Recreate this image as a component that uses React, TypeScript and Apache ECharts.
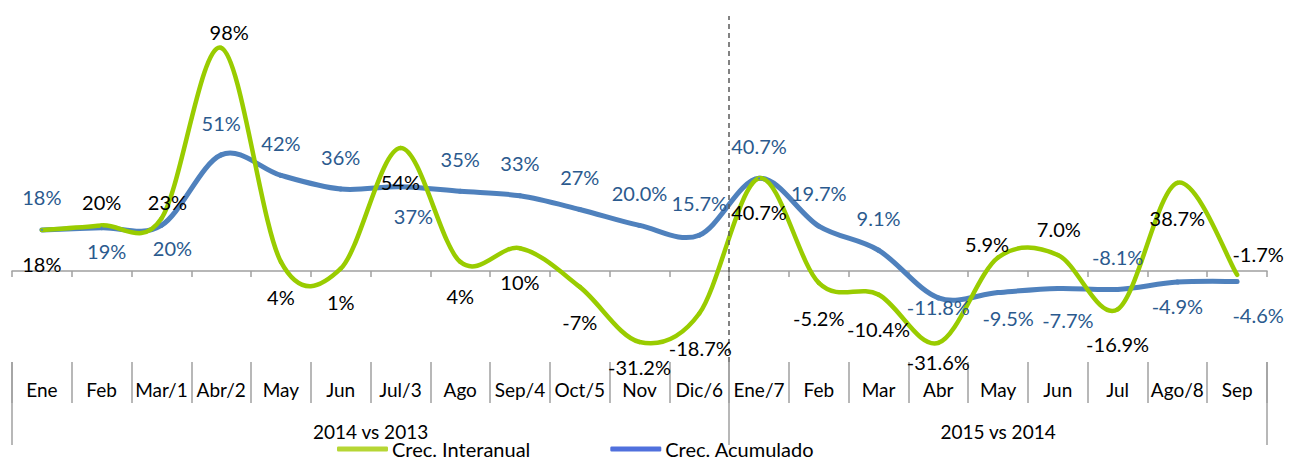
import React, { useEffect, useRef } from "react";
import * as echarts from "echarts";

// ---- data ----
const categories = [
  "Ene", "Feb", "Mar/1", "Abr/2", "May", "Jun", "Jul/3", "Ago", "Sep/4", "Oct/5", "Nov", "Dic/6",
  "Ene/7", "Feb", "Mar", "Abr", "May", "Jun", "Jul", "Ago/8", "Sep",
];
const groups = ["2014 vs 2013", "2015 vs 2014"];
const groupSizes = [12, 9];

const interanualValues = [
  18, 20, 23, 98, 4, 1, 54, 4, 10, -7, -31.2, -18.7,
  40.7, -5.2, -10.4, -31.6, 5.9, 7.0, -16.9, 38.7, -1.7,
];
const interanualLabels = [
  "18%", "20%", "23%", "98%", "4%", "1%", "54%", "4%", "10%", "-7%", "-31.2%", "-18.7%",
  "40.7%", "-5.2%", "-10.4%", "-31.6%", "5.9%", "7.0%", "-16.9%", "38.7%", "-1.7%",
];
const acumuladoValues = [
  18, 19, 20, 51, 42, 36, 37, 35, 33, 27, 20.0, 15.7,
  40.7, 19.7, 9.1, -11.8, -9.5, -7.7, -8.1, -4.9, -4.6,
];
const acumuladoLabels = [
  "18%", "19%", "20%", "51%", "42%", "36%", "37%", "35%", "33%", "27%", "20.0%", "15.7%",
  "40.7%", "19.7%", "9.1%", "-11.8%", "-9.5%", "-7.7%", "-8.1%", "-4.9%", "-4.6%",
];

// ---- layout (label offsets relative to each point) ----
const interanualOffsets = [
  [0, 34], [0, -23], [6, -17], [8, -16], [0, 35], [0, 33], [0, 34], [0, 34], [0, 34], [0, 35], [0, 25], [1, 34],
  [0, 34], [0, 35], [0, 34], [0, 19], [-11, -14], [1, -26], [0, 35], [0, 35], [21, -21],
];
const acumuladoOffsets = [
  [0, -33], [5, 23], [11, 23], [0, -32], [0, -32], [0, -32], [13, 29], [0, -32], [0, -33], [0, -32], [0, -32], [0, -32],
  [0, -32], [0, -33], [0, -32], [0, 9], [10, 25], [10, 32], [0, -32], [0, 24], [21, 34],
];

const GREEN = "#99CC00";
const BLUE = "#4F81BD";
const BLUE_TEXT = "#2B5A8E";
const GRAY = "#A0A0A0";
const FONT = "Lato, 'Liberation Sans', sans-serif";

// Excel-like smoothed curve (Catmull-Rom Bezier segments) through the axis scales
function curveSeries(name: string, values: number[], color: string, width: number, z: number) {
  const n = values.length;
  return {
    name,
    type: "custom",
    xAxisIndex: 0,
    yAxisIndex: 0,
    z,
    silent: true,
    data: values.map((v, i) => [i, v]),
    encode: { x: 0, y: 1 },
    renderItem: (params: any, api: any) => {
      const i = params.dataIndex;
      if (i >= n - 1) return null;
      const idx = (k: number) => Math.max(0, Math.min(n - 1, k));
      const p = (k: number) => api.coord([idx(k), values[idx(k)]]);
      const p0 = p(i - 1), p1 = p(i), p2 = p(i + 1), p3 = p(i + 2);
      const t = 1 / 6;
      return {
        type: "bezierCurve",
        shape: {
          x1: p1[0], y1: p1[1],
          cpx1: p1[0] + (p2[0] - p0[0]) * t, cpy1: p1[1] + (p2[1] - p0[1]) * t,
          cpx2: p2[0] - (p3[0] - p1[0]) * t, cpy2: p2[1] - (p3[1] - p1[1]) * t,
          x2: p2[0], y2: p2[1],
        },
        style: { stroke: color, lineWidth: width, fill: "none", lineCap: "round" },
      };
    },
  };
}

export default function App() {
  const ref = useRef<HTMLDivElement>(null);
  useEffect(() => {
    document.body.style.margin = "0";
    if (!ref.current) return;
    const chart = echarts.init(ref.current, undefined, { renderer: "svg" });
    const total = groupSizes.reduce((a, b) => a + b, 0);
    const groupBounds: number[] = [0];
    const groupCenters: number[] = [];
    groupSizes.forEach((s, i) => {
      groupCenters.push(groupBounds[i] + s / 2);
      groupBounds.push(groupBounds[i] + s);
    });

    const mk = (vals: number[], labels: string[], offs: number[][], color: string) =>
      vals.map((v, i) => ({
        value: v,
        label: { offset: offs[i], formatter: labels[i], color },
      }));

    const labelSeries = (name: string, vals: number[], labels: string[], offs: number[][], color: string, textColor: string) => ({
      name,
      type: "line",
      xAxisIndex: 0,
      color,
      symbol: "circle",
      symbolSize: 2,
      lineStyle: { width: 0, opacity: 0 },
      itemStyle: { color },
      label: { show: true, position: "inside", fontSize: 20, fontFamily: FONT },
      data: mk(vals, labels, offs, textColor),
      z: 6,
    });

    chart.setOption({
      animation: false,
      textStyle: { fontFamily: FONT },
      grid: { left: 12, right: 22, top: 16, bottom: 98 },
      yAxis: { type: "value", min: -40, max: 112, show: false },
      xAxis: [
        {
          type: "category",
          data: categories,
          position: "bottom",
          axisLine: { onZero: true, lineStyle: { color: GRAY, width: 1.5 } },
          axisTick: { show: true, length: 6, lineStyle: { color: GRAY, width: 1.5 } },
          axisLabel: { show: false },
        },
        {
          type: "category",
          data: categories,
          position: "bottom",
          axisLine: { show: false, onZero: false },
          axisTick: { show: true, length: 41, lineStyle: { color: GRAY, width: 1.5 } },
          axisLabel: { show: true, margin: 18, fontSize: 19, color: "#000", fontFamily: FONT, interval: 0 },
        },
        {
          type: "value",
          min: 0,
          max: total,
          position: "bottom",
          axisLine: { show: false, onZero: false },
          splitLine: { show: false },
          axisTick: { show: true, length: 83, customValues: groupBounds, lineStyle: { color: GRAY, width: 1.5 } },
          axisLabel: {
            show: true,
            customValues: groupCenters,
            margin: 60,
            fontSize: 19,
            color: "#000",
            fontFamily: FONT,
            formatter: (v: number) => {
              const idx = groupCenters.findIndex((c) => Math.abs(c - v) < 1e-6);
              return idx >= 0 ? groups[idx] : "";
            },
          },
        },
      ],
      legend: {
        data: ["Crec. Interanual", "Crec. Acumulado"],
        left: 337,
        top: 439,
        padding: 0,
        icon: "roundRect",
        itemWidth: 51,
        itemHeight: 5,
        itemGap: 80,
        textStyle: { fontSize: 20, lineHeight: 20, color: "#000", fontFamily: FONT, padding: [0, 0, 0, -1] },
      },
      series: [
        curveSeries("Crec. Acumulado", acumuladoValues, BLUE, 5, 2),
        curveSeries("Crec. Interanual", interanualValues, GREEN, 4.5, 3),
        labelSeries("Crec. Interanual", interanualValues, interanualLabels, interanualOffsets, GREEN, "#000"),
        labelSeries("Crec. Acumulado", acumuladoValues, acumuladoLabels, acumuladoOffsets, BLUE, BLUE_TEXT),
        {
          name: "divider",
          type: "line",
          xAxisIndex: 2,
          data: [[groupBounds[1], 0]],
          symbol: "none",
          lineStyle: { opacity: 0 },
          silent: true,
          markLine: {
            silent: true,
            symbol: ["none", "none"],
            label: { show: false },
            lineStyle: { type: [5, 4], color: "#595959", width: 1.5 },
            data: [{ xAxis: groupBounds[1] }],
          },
        },
      ],
    });
    return () => chart.dispose();
  }, []);
  return <div ref={ref} style={{ width: 1289, height: 460 }} />;
}
